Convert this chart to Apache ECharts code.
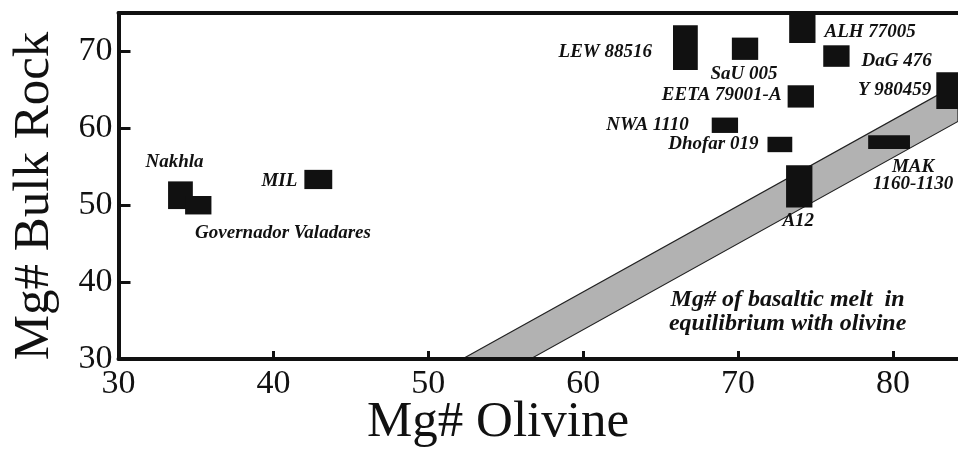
<!DOCTYPE html>
<html>
<head>
<meta charset="utf-8">
<script src="https://cdn.jsdelivr.net/npm/echarts@6/dist/echarts.min.js"></script>
<style>
  html, body { margin: 0; padding: 0; background: #fff; }
  #chart { width: 958px; height: 452px; }
</style>
</head>
<body>
<div id="chart"></div>
<script>
// Meteorite samples: ranges of olivine Mg# (x) and bulk-rock Mg# (y)
const sampleNames = ['Nakhla', 'Governador Valadares', 'MIL', 'LEW 88516', 'SaU 005', 'ALH 77005',
  'DaG 476', 'Y 980459', 'EETA 79001-A', 'NWA 1110', 'Dhofar 019', 'A12', 'MAK\n1160-1130'];
const olivineMin = [33.2, 34.3, 42.0, 65.8, 69.6, 73.3, 75.5, 82.8, 73.2, 68.3, 71.9, 73.1, 78.4];
const olivineMax = [34.8, 36.0, 43.8, 67.4, 71.3, 75.0, 77.2, 84.6, 74.9, 70.0, 73.5, 74.8, 81.1];
const bulkMin    = [49.5, 48.8, 52.1, 67.6, 68.9, 71.1, 68.0, 62.5, 62.7, 59.4, 56.9, 49.7, 57.3];
const bulkMax    = [53.1, 51.2, 54.6, 73.4, 71.8, 75.0, 70.8, 67.3, 65.6, 61.4, 58.9, 55.2, 59.1];

// Equilibrium band: upper and lower edges (olivine Mg#, melt Mg#)
const bandUpperOlivine = [52.2, 84.2];
const bandUpperMelt    = [30.0, 65.8];
const bandLowerOlivine = [56.6, 84.2];
const bandLowerMelt    = [30.0, 60.9];

// Axis ticks
const xTicks = [30, 40, 50, 60, 70, 80];
const yTicks = [30, 40, 50, 60, 70];
const xRange = [30, 84.2];
const yRange = [30, 75];

// Label placement around each box: [side, dx, dy] in pixels
const labelPlacement = [
  ['above', -6, 19], ['belowLeft', 10, 19], ['left', 7, 2], ['left', 21, 4], ['below', -1, 14],
  ['right', 9, 4], ['right', 12, 5], ['left', 5, -1], ['left', 6, -1], ['left', 23, 0],
  ['left', 9, 0], ['below', -1, 14], ['below', 24, 27]
];

const LABEL_FONT = 'italic bold 19px "Liberation Serif"';
const INK = '#111';

const boxData = sampleNames.map((n, i) => [olivineMin[i], olivineMax[i], bulkMin[i], bulkMax[i]]);

const chart = echarts.init(document.getElementById('chart'));

const axisFont = { fontFamily: 'Liberation Serif', fontSize: 34, color: INK };

chart.setOption({
  animation: false,
  backgroundColor: '#fff',
  grid: { left: 118.5, right: 0, top: 13, bottom: 93, containLabel: false },
  xAxis: [{
    type: 'value', min: xRange[0], max: xRange[1], interval: 10, z: 10,
    splitLine: { show: false },
    axisLine: { lineStyle: { color: INK, width: 4 } },
    axisTick: { inside: true, length: 8, lineStyle: { color: INK, width: 3 } },
    axisLabel: Object.assign({ margin: 8, showMaxLabel: false,
      formatter: v => xTicks.indexOf(v) >= 0 ? String(v) : '' }, axisFont)
  }, {
    type: 'value', position: 'top', min: xRange[0], max: xRange[1], z: 10,
    splitLine: { show: false }, axisTick: { show: false }, axisLabel: { show: false },
    axisLine: { lineStyle: { color: INK, width: 4 } }
  }],
  yAxis: {
    type: 'value', min: yRange[0], max: yRange[1], interval: 10, z: 10,
    splitLine: { show: false },
    axisLine: { lineStyle: { color: INK, width: 4 } },
    axisTick: { inside: true, length: 12, lineStyle: { color: INK, width: 3 } },
    axisLabel: Object.assign({ margin: 6, showMaxLabel: false,
      formatter: v => yTicks.indexOf(v) >= 0 ? String(v) : '' }, axisFont)
  },
  graphic: [
    { type: 'text', x: 498, y: 423, z: 20,
      style: { text: 'Mg# Olivine', font: '51px "Liberation Serif"', fill: INK, align: 'center', verticalAlign: 'middle' } },
    { type: 'text', x: 35, y: 196, rotation: Math.PI / 2, z: 20,
      style: { text: 'Mg# Bulk Rock', font: '51px "Liberation Serif"', fill: INK, align: 'center', verticalAlign: 'middle' } }
  ],
  series: [
    {
      // grey band of melt Mg# in equilibrium with olivine
      type: 'custom', xAxisIndex: 0, z: 1, silent: true,
      data: [[0]],
      renderItem: (params, api) => {
        const pts = [
          api.coord([bandUpperOlivine[0], bandUpperMelt[0]]),
          api.coord([bandUpperOlivine[1], bandUpperMelt[1]]),
          api.coord([bandLowerOlivine[1], bandLowerMelt[1]]),
          api.coord([bandLowerOlivine[0], bandLowerMelt[0]])
        ];
        return { type: 'polygon', shape: { points: pts },
          style: { fill: '#b2b2b2', stroke: '#222', lineWidth: 1.2 } };
      }
    },
    {
      // sample boxes with their names
      type: 'custom', xAxisIndex: 0, z: 3, silent: true,
      data: boxData,
      renderItem: (params, api) => {
        const i = params.dataIndex;
        const tl = api.coord([api.value(0), api.value(3)]);
        const br = api.coord([api.value(1), api.value(2)]);
        const x0 = tl[0], y0 = tl[1], x1 = br[0], y1 = br[1];
        const xm = (x0 + x1) / 2, ym = (y0 + y1) / 2;
        const [side, dx, dy] = labelPlacement[i];
        let tx, ty, align = 'center';
        if (side === 'left') { tx = x0 - dx; ty = ym + dy; align = 'right'; }
        else if (side === 'right') { tx = x1 + dx; ty = ym + dy; align = 'left'; }
        else if (side === 'above') { tx = xm + dx; ty = y0 - dy; }
        else if (side === 'below') { tx = xm + dx; ty = y1 + dy; }
        else { tx = x0 + dx; ty = y1 + dy; align = 'left'; }
        return {
          type: 'group',
          children: [
            { type: 'rect', shape: { x: x0, y: y0, width: x1 - x0, height: y1 - y0 }, style: { fill: INK } },
            { type: 'text', x: tx, y: ty,
              style: { text: sampleNames[i], font: LABEL_FONT, fill: INK, align: align,
                verticalAlign: 'middle', lineHeight: 17 } }
          ]
        };
      }
    },
    {
      // band caption
      type: 'custom', xAxisIndex: 0, z: 3, silent: true,
      data: [[73.2, 36.1]],
      renderItem: (params, api) => {
        const p = api.coord([api.value(0), api.value(1)]);
        return { type: 'text', x: p[0], y: p[1],
          style: { text: 'Mg# of basaltic melt  in\nequilibrium with olivine',
            font: 'italic bold 24px "Liberation Serif"', lineHeight: 24, fill: INK,
            align: 'center', verticalAlign: 'middle' } };
      }
    }
  ]
});
</script>
</body>
</html>
